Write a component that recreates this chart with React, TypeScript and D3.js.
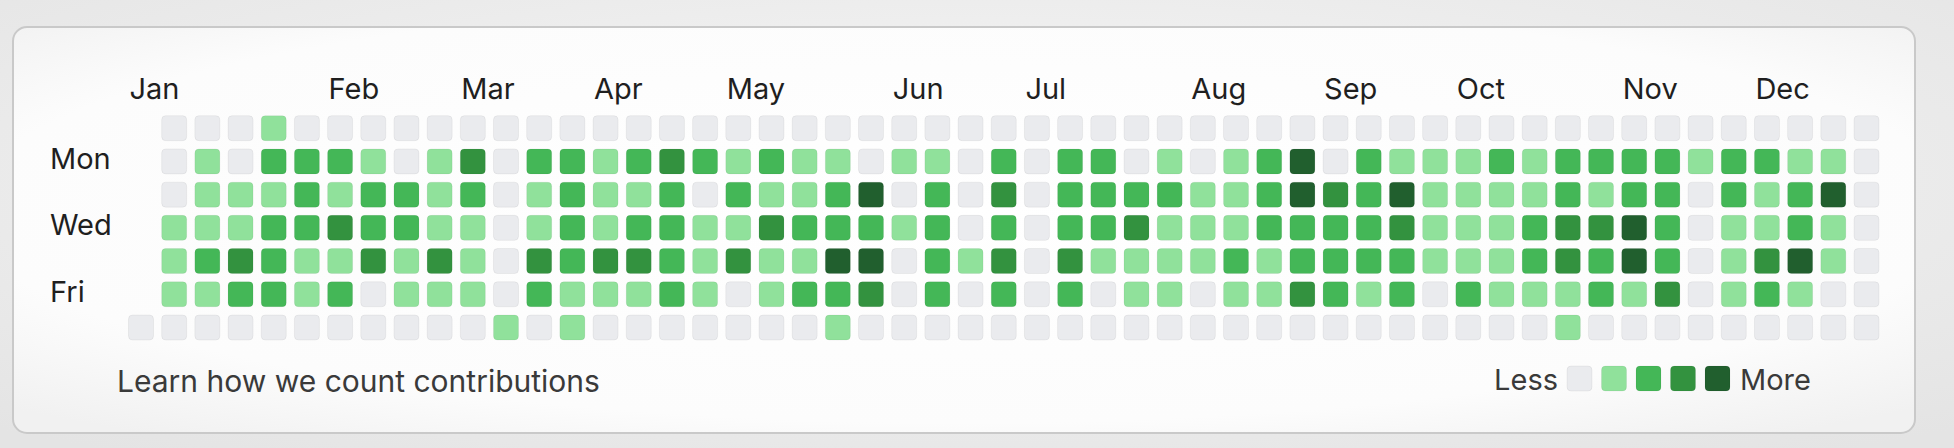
import { useEffect, useRef } from 'react';
import * as d3 from 'd3';

// contribution levels per weekday, one entry per week (week 0 = the partial first week)
const sun = [null, 0, 0, 0, 1, 0, 0, 0, 0, 0, 0, 0, 0, 0, 0, 0, 0, 0, 0, 0, 0, 0, 0, 0, 0, 0, 0, 0, 0, 0, 0, 0, 0, 0, 0, 0, 0, 0, 0, 0, 0, 0, 0, 0, 0, 0, 0, 0, 0, 0, 0, 0, 0];
const mon = [null, 0, 1, 0, 2, 2, 2, 1, 0, 1, 3, 0, 2, 2, 1, 2, 3, 2, 1, 2, 1, 1, 0, 1, 1, 0, 2, 0, 2, 2, 0, 1, 0, 1, 2, 4, 0, 2, 1, 1, 1, 2, 1, 2, 2, 2, 2, 1, 2, 2, 1, 1, 0];
const tue = [null, 0, 1, 1, 1, 2, 1, 2, 2, 1, 2, 0, 1, 2, 1, 1, 2, 0, 2, 1, 1, 2, 4, 0, 2, 0, 3, 0, 2, 2, 2, 2, 1, 1, 2, 4, 3, 2, 4, 1, 1, 1, 1, 2, 1, 2, 2, 0, 2, 1, 2, 4, 0];
const wed = [null, 1, 1, 1, 2, 2, 3, 2, 2, 1, 1, 0, 1, 2, 1, 2, 2, 1, 1, 3, 2, 2, 2, 1, 2, 0, 2, 0, 2, 2, 3, 1, 1, 1, 2, 2, 2, 2, 3, 1, 1, 1, 2, 3, 3, 4, 2, 0, 1, 1, 2, 1, 0];
const thu = [null, 1, 2, 3, 2, 1, 1, 3, 1, 3, 1, 0, 3, 2, 3, 3, 2, 1, 3, 1, 1, 4, 4, 0, 2, 1, 3, 0, 3, 1, 1, 1, 1, 2, 1, 2, 2, 2, 2, 1, 1, 1, 2, 3, 2, 4, 2, 0, 1, 3, 4, 1, 0];
const fri = [null, 1, 1, 2, 2, 1, 2, 0, 1, 1, 1, 0, 2, 1, 1, 1, 2, 1, 0, 1, 2, 2, 3, 0, 2, 0, 2, 0, 2, 0, 1, 1, 0, 1, 1, 3, 2, 1, 2, 0, 2, 1, 1, 1, 2, 1, 3, 0, 1, 2, 1, 0, 0];
const sat = [0, 0, 0, 0, 0, 0, 0, 0, 0, 0, 0, 1, 0, 1, 0, 0, 0, 0, 0, 0, 0, 1, 0, 0, 0, 0, 0, 0, 0, 0, 0, 0, 0, 0, 0, 0, 0, 0, 0, 0, 0, 0, 0, 1, 0, 0, 0, 0, 0, 0, 0, 0, 0];
const days = [sun, mon, tue, wed, thu, fri, sat];

const dayLabels = ['', 'Mon', '', 'Wed', '', 'Fri', ''];
const monthNames = ['Jan', 'Feb', 'Mar', 'Apr', 'May', 'Jun', 'Jul', 'Aug', 'Sep', 'Oct', 'Nov', 'Dec'];
const monthWeeks = [0, 6, 10, 14, 18, 23, 27, 32, 36, 40, 45, 49];
const levelColors = ['#eaebee', '#90e19b', '#44b757', '#33923f', '#215f2e'];

const W = 1954;
const H = 448;
const FONT = 'Inter, "Noto Sans", sans-serif';

export default function App() {
  const svgRef = useRef<SVGSVGElement>(null);

  useEffect(() => {
    const svg = d3.select(svgRef.current);
    svg.selectAll('*').remove();

    const cell = 25;
    const x = d3.scaleLinear().domain([0, 52]).range([128.5, 1854]);
    const y = d3.scaleLinear().domain([0, 6]).range([115.7, 315]);

    const defs = svg.append('defs');
    const bg = defs.append('radialGradient').attr('id', 'bg').attr('cx', '50%').attr('cy', '40%').attr('r', '75%');
    bg.append('stop').attr('offset', '0%').attr('stop-color', '#f7f7f7');
    bg.append('stop').attr('offset', '100%').attr('stop-color', '#e4e4e4');
    const card = defs.append('radialGradient').attr('id', 'card').attr('cx', '50%').attr('cy', '45%').attr('r', '70%');
    card.append('stop').attr('offset', '0%').attr('stop-color', '#ffffff');
    card.append('stop').attr('offset', '75%').attr('stop-color', '#fcfcfc');
    card.append('stop').attr('offset', '100%').attr('stop-color', '#f1f1f1');

    svg.append('rect').attr('width', W).attr('height', H).attr('fill', 'url(#bg)');
    svg.append('rect')
      .attr('x', 13).attr('y', 27).attr('width', 1902).attr('height', 406)
      .attr('rx', 14)
      .attr('fill', 'url(#card)')
      .attr('stroke', '#c9c9c9')
      .attr('stroke-width', 2);

    // cells
    const cells: { w: number; d: number; v: number }[] = [];
    days.forEach((row, d) => {
      row.forEach((v, w) => {
        if (v !== null) cells.push({ w, d, v });
      });
    });

    svg.append('g')
      .selectAll('rect')
      .data(cells)
      .enter()
      .append('rect')
      .attr('x', (c) => x(c.w))
      .attr('y', (c) => y(c.d))
      .attr('width', cell)
      .attr('height', cell)
      .attr('rx', 4)
      .attr('fill', (c) => levelColors[c.v])
      .attr('stroke', 'rgba(0,0,0,0.05)')
      .attr('stroke-width', 1);

    // month labels
    svg.append('g')
      .selectAll('text')
      .data(monthNames)
      .enter()
      .append('text')
      .attr('x', (m, i) => x(monthWeeks[i]) + 1)
      .attr('y', 98.5)
      .attr('font-family', FONT)
      .attr('font-size', 29)
      .attr('fill', '#1f1f1f')
      .text((m) => m);

    // weekday labels
    svg.append('g')
      .selectAll('text')
      .data(dayLabels)
      .enter()
      .append('text')
      .attr('x', 50)
      .attr('y', (l, i) => y(i) + cell / 2 + 7.5)
      .attr('font-family', FONT)
      .attr('font-size', 29)
      .attr('fill', '#1f1f1f')
      .text((l) => l);

    svg.append('text')
      .attr('x', 117)
      .attr('y', 391.5)
      .attr('font-family', FONT)
      .attr('font-size', 30)
      .attr('fill', '#3a3a3a')
      .text('Learn how we count contributions');

    // legend
    const lx = d3.scaleLinear().domain([0, 4]).range([1567, 1705]);
    svg.append('text')
      .attr('x', 1558)
      .attr('y', 390)
      .attr('text-anchor', 'end')
      .attr('font-family', FONT)
      .attr('font-size', 29)
      .attr('fill', '#3a3a3a')
      .text('Less');
    svg.append('g')
      .selectAll('rect')
      .data(levelColors)
      .enter()
      .append('rect')
      .attr('x', (c, i) => lx(i))
      .attr('y', 366)
      .attr('width', cell)
      .attr('height', cell)
      .attr('rx', 4)
      .attr('fill', (c) => c)
      .attr('stroke', 'rgba(0,0,0,0.05)');
    svg.append('text')
      .attr('x', 1740)
      .attr('y', 390)
      .attr('font-family', FONT)
      .attr('font-size', 29)
      .attr('fill', '#3a3a3a')
      .text('More');
  }, []);

  return (
    <div style={{ position: 'absolute', left: 0, top: 0 }}>
      <svg ref={svgRef} width={W} height={H} style={{ display: 'block' }} />
    </div>
  );
}
